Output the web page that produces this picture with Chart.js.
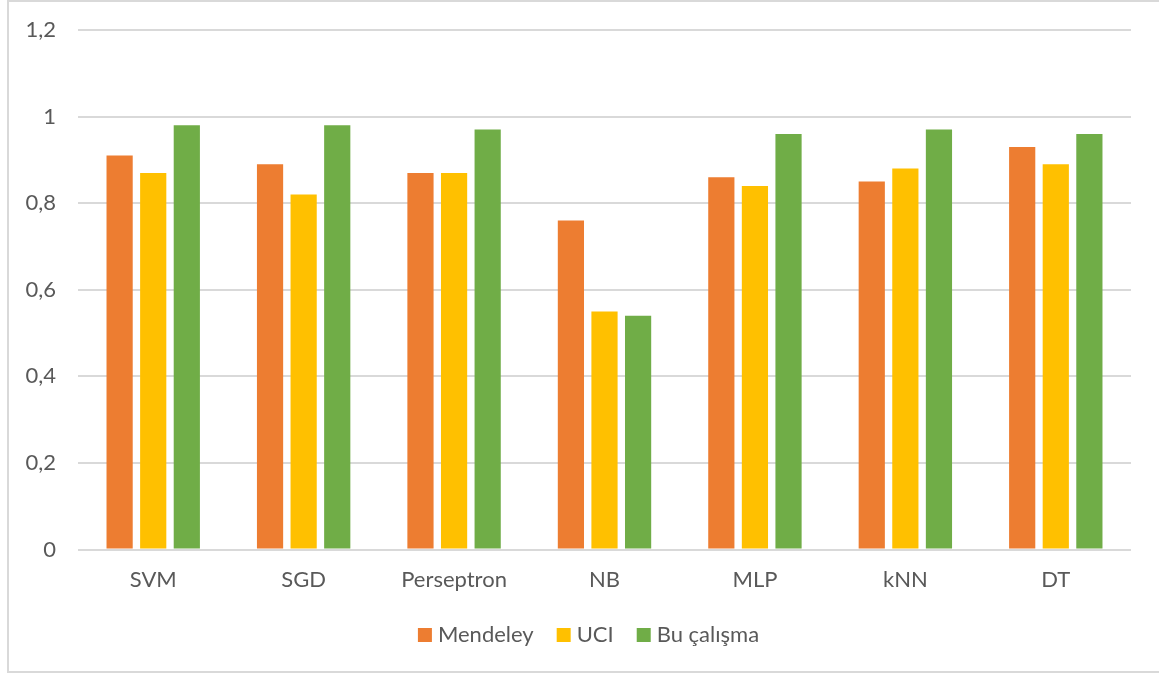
<!DOCTYPE html>
<html>
<head>
<meta charset="utf-8">
<script src="https://cdn.jsdelivr.net/npm/chart.js@4/dist/chart.umd.min.js"></script>
<style>
  html, body { margin: 0; padding: 0; background: #ffffff; }
  #wrap { position: relative; width: 1159px; height: 673px; overflow: hidden; }
  #frame { position: absolute; left: 7px; top: 0px; width: 1170px; height: 669px; border: 2px solid #d9d9d9; }
  #c { position: absolute; left: 0; top: 0; }
</style>
</head>
<body>
<div id="wrap">
  <div id="frame"></div>
  <canvas id="c" width="1159" height="673"></canvas>
</div>
<script>
// Classifier accuracy comparison
const categories = ['SVM', 'SGD', 'Perseptron', 'NB', 'MLP', 'kNN', 'DT'];
const mendeley = [0.91, 0.89, 0.87, 0.76, 0.86, 0.85, 0.93];
const uci      = [0.87, 0.82, 0.87, 0.55, 0.84, 0.88, 0.89];
const buCalisma = [0.98, 0.98, 0.97, 0.54, 0.96, 0.97, 0.96];
const seriesNames = ['Mendeley', 'UCI', 'Bu çalışma'];
const seriesColors = ['#ED7D31', '#FFC000', '#70AD47'];

const FONT = "Lato, 'Open Sans', sans-serif";
const TEXT = '#595959';

// Compact legend row under the x axis: square swatch, short gap, label.
const compactLegend = {
  id: 'compactLegend',
  afterDraw(chart) {
    const ctx = chart.ctx;
    const box = 14, gap = 6, itemGap = 23, centerY = 635;
    ctx.save();
    ctx.font = `22px ${FONT}`;
    ctx.textBaseline = 'middle';
    ctx.textAlign = 'left';
    const items = chart.data.datasets.map(ds => ({
      text: ds.label, color: ds.backgroundColor, w: ctx.measureText(ds.label).width
    }));
    const total = items.reduce((s, it) => s + box + gap + it.w, 0) + itemGap * (items.length - 1);
    // centred on the outer frame (which starts a few px in from the left edge)
    let x = chart.width / 2 + 9 - total / 2;
    items.forEach(it => {
      ctx.fillStyle = it.color;
      ctx.fillRect(x, centerY - box / 2, box, box);
      ctx.fillStyle = TEXT;
      ctx.fillText(it.text, x + box + gap, centerY);
      x += box + gap + it.w + itemGap;
    });
    ctx.restore();
  }
};

new Chart(document.getElementById('c'), {
  type: 'bar',
  data: {
    labels: categories,
    datasets: [mendeley, uci, buCalisma].map((vals, i) => ({
      label: seriesNames[i],
      data: vals,
      backgroundColor: seriesColors[i],
      borderWidth: 0,
      categoryPercentage: 0.67,
      barPercentage: 0.78
    }))
  },
  plugins: [compactLegend],
  options: {
    responsive: false,
    animation: false,
    layout: { padding: { left: 0, right: 28, top: 30, bottom: 71 } },
    plugins: {
      tooltip: { enabled: false },
      legend: { display: false }
    },
    scales: {
      x: {
        grid: { display: false },
        border: { display: false },
        ticks: { color: TEXT, padding: 9, font: { family: FONT, size: 22 } }
      },
      y: {
        min: 0,
        max: 1.2,
        afterFit: (scale) => {
          scale.width = 78;
          scale.paddingTop = 0;
          scale.paddingBottom = 0;
        },
        border: { display: false },
        grid: { color: '#d9d9d9', lineWidth: 2, drawTicks: false },
        ticks: {
          stepSize: 0.2,
          padding: 22,
          color: TEXT,
          font: { family: FONT, size: 22 },
          callback: (v) => String(Math.round(v * 10) / 10).replace('.', ',')
        }
      }
    }
  }
});
</script>
</body>
</html>
